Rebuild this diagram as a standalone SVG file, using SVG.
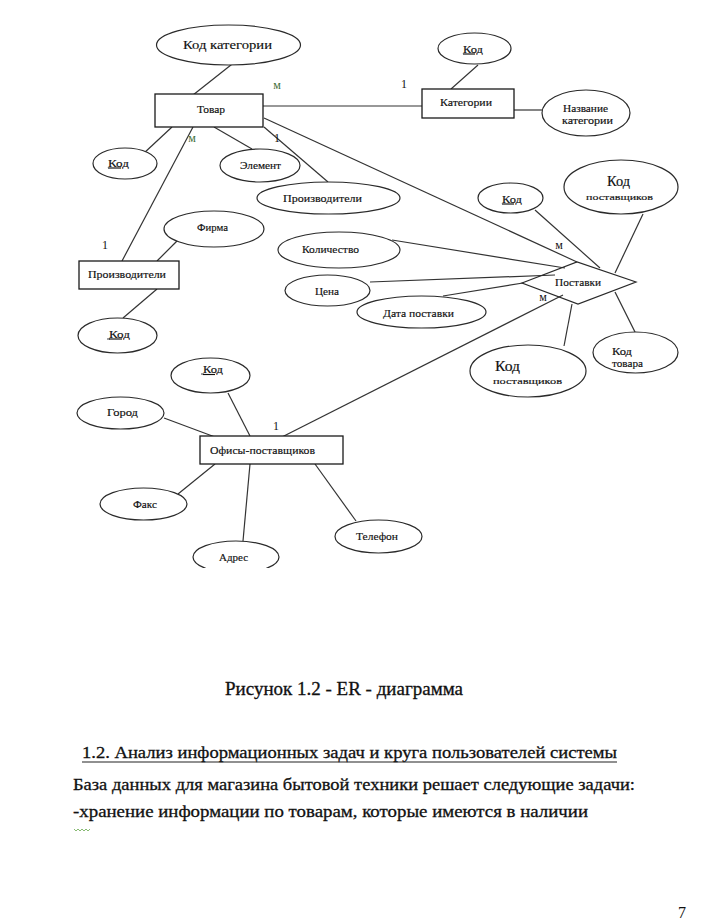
<svg xmlns="http://www.w3.org/2000/svg" width="720" height="921" viewBox="0 0 720 921" font-family="'Liberation Serif', 'DejaVu Serif', serif">
<style>
.ent{fill:#fff;stroke:#1a1a1a;stroke-width:1.3}
.attr{fill:#fff;stroke:#2a2a2a;stroke-width:1.2}
.rel{fill:none;stroke:#2a2a2a;stroke-width:1.2}
.edge{stroke:#333;stroke-width:1.2;fill:none}
text{font-family:'Liberation Serif','DejaVu Serif',serif;fill:#111}
.l{font-size:10px;text-anchor:middle;stroke:#111;stroke-width:0.15}
.card{font-size:12px;text-anchor:middle}
.grn{fill:#3f6e38}
.u{text-decoration:underline}
.body{font-size:17px;stroke:#111;stroke-width:0.3}
</style>
<defs>
<clipPath id="cutAdr"><rect x="180" y="530" width="120" height="38"/></clipPath>
</defs>
<rect width="720" height="921" fill="#fff"/>
<g id="connectors">
<line class="edge" x1="236" y1="61" x2="193" y2="95"/>
<line class="edge" x1="263" y1="106" x2="422" y2="106"/>
<line class="edge" x1="478" y1="65" x2="451" y2="89"/>
<line class="edge" x1="514" y1="110" x2="542" y2="110"/>
<line class="edge" x1="172" y1="127" x2="143" y2="154"/>
<line class="edge" x1="214" y1="127" x2="252" y2="149"/>
<line class="edge" x1="264" y1="127" x2="328" y2="182"/>
<line class="edge" x1="264" y1="118" x2="577" y2="262"/>
<line class="edge" x1="193" y1="127" x2="122" y2="261"/>
<line class="edge" x1="177" y1="241" x2="157" y2="261"/>
<line class="edge" x1="157" y1="289" x2="123" y2="318"/>
<line class="edge" x1="535" y1="210" x2="600" y2="268"/>
<line class="edge" x1="643" y1="214" x2="615" y2="273"/>
<line class="edge" x1="392" y1="240" x2="565" y2="268"/>
<line class="edge" x1="370" y1="282" x2="555" y2="275"/>
<line class="edge" x1="443" y1="296" x2="523" y2="283"/>
<line class="edge" x1="278" y1="439" x2="563" y2="295"/>
<line class="edge" x1="564" y1="346" x2="572" y2="304"/>
<line class="edge" x1="635" y1="332" x2="615" y2="292"/>
<line class="edge" x1="228" y1="393" x2="250" y2="436"/>
<line class="edge" x1="164" y1="418" x2="215" y2="437"/>
<line class="edge" x1="215" y1="464" x2="178" y2="494"/>
<line class="edge" x1="250" y1="464" x2="243" y2="541"/>
<line class="edge" x1="315" y1="464" x2="356" y2="521"/>
</g>
<g id="tovar"><rect class="ent" x="155" y="94" width="108" height="33"/><text class="l" x="211" y="112.5" textLength="28" lengthAdjust="spacingAndGlyphs">Товар</text></g>
<g id="kod-kategorii"><ellipse class="attr" cx="228.5" cy="45" rx="72" ry="20"/><text class="l" style="font-size:13px" x="227.5" y="49" textLength="89" lengthAdjust="spacingAndGlyphs">Код категории</text></g>
<g id="tovar-kod"><ellipse class="attr" cx="125" cy="163.5" rx="32" ry="15.5"/><text class="l u" x="118.5" y="166.5" textLength="21" lengthAdjust="spacingAndGlyphs">Код</text></g>
<g id="element"><ellipse class="attr" cx="260" cy="165.5" rx="40" ry="16.5"/><text class="l" x="260.5" y="169" textLength="41" lengthAdjust="spacingAndGlyphs">Элемент</text></g>
<g id="proizv-attr"><ellipse class="attr" cx="328.5" cy="198" rx="71.5" ry="16"/><text class="l" x="322.5" y="201.5" textLength="79" lengthAdjust="spacingAndGlyphs">Производители</text></g>
<g id="kategorii"><rect class="ent" x="422" y="89" width="92" height="29"/><text class="l" x="466" y="105.5" textLength="52" lengthAdjust="spacingAndGlyphs">Категории</text></g>
<g id="kategorii-kod"><ellipse class="attr" cx="474.5" cy="48.5" rx="36.5" ry="15.5"/><text class="l u" x="473" y="52.5" textLength="20" lengthAdjust="spacingAndGlyphs">Код</text></g>
<g id="nazvanie"><ellipse class="attr" cx="586" cy="113" rx="44" ry="23"/><text class="l" x="585.5" y="111.5" textLength="45" lengthAdjust="spacingAndGlyphs">Название</text><text class="l" x="587.5" y="123.5" textLength="51" lengthAdjust="spacingAndGlyphs">категории</text></g>
<g id="kod-postav-1"><ellipse class="attr" cx="621" cy="187" rx="57" ry="27"/><text class="l" style="font-size:14px" x="618.5" y="186" textLength="23" lengthAdjust="spacingAndGlyphs">Код</text><text class="l" style="font-size:9px" x="619.5" y="200" textLength="67" lengthAdjust="spacingAndGlyphs">поставщиков</text></g>
<g id="postavki-kod"><ellipse class="attr" cx="510.5" cy="198" rx="32.5" ry="15"/><text class="l u" x="512" y="202.5" textLength="20" lengthAdjust="spacingAndGlyphs">Код</text></g>
<g id="kolichestvo"><ellipse class="attr" cx="339" cy="250" rx="61" ry="18"/><text class="l" x="330.5" y="252.5" textLength="57" lengthAdjust="spacingAndGlyphs">Количество</text></g>
<g id="cena"><ellipse class="attr" cx="327.5" cy="290.5" rx="42.5" ry="15.5"/><text class="l" x="327" y="294.5" textLength="24" lengthAdjust="spacingAndGlyphs">Цена</text></g>
<g id="data"><ellipse class="attr" cx="421.5" cy="312" rx="64.5" ry="16"/><text class="l" x="418.5" y="316.5" textLength="71" lengthAdjust="spacingAndGlyphs">Дата поставки</text></g>
<g id="postavki"><polygon class="rel" points="522,283 577,262 636,282 578,304"/><text class="l" x="578" y="285.5" textLength="46" lengthAdjust="spacingAndGlyphs">Поставки</text></g>
<g id="kod-postav-2"><ellipse class="attr" cx="528" cy="371" rx="58" ry="26"/><text class="l" style="font-size:14px" x="507.5" y="370.5" textLength="25" lengthAdjust="spacingAndGlyphs">Код</text><text class="l" style="font-size:9px" x="527.5" y="384" textLength="69" lengthAdjust="spacingAndGlyphs">поставщиков</text></g>
<g id="kod-tovara"><ellipse class="attr" cx="635.5" cy="352.5" rx="42.5" ry="20.5"/><text style="font-size:10px;stroke:#111;stroke-width:0.15" x="612" y="354.5" textLength="20" lengthAdjust="spacingAndGlyphs">Код</text><text style="font-size:10px;stroke:#111;stroke-width:0.15" x="612" y="366.5" textLength="31" lengthAdjust="spacingAndGlyphs">товара</text></g>
<g id="firma"><ellipse class="attr" cx="214" cy="229" rx="50" ry="18"/><text class="l" x="212.5" y="230.5" textLength="31" lengthAdjust="spacingAndGlyphs">Фирма</text></g>
<g id="proizvoditeli"><rect class="ent" x="79" y="261" width="100" height="28"/><text class="l" x="127" y="277.5" textLength="78" lengthAdjust="spacingAndGlyphs">Производители</text></g>
<g id="proizv-kod"><ellipse class="attr" cx="117.5" cy="335.5" rx="39.5" ry="17.5"/><line x1="107" y1="339" x2="110" y2="339" stroke="#111" stroke-width="0.8"/><text class="l u" x="119.5" y="337.5" textLength="21" lengthAdjust="spacingAndGlyphs">Код</text></g>
<g id="ofisy-kod"><ellipse class="attr" cx="210.5" cy="375.5" rx="39.5" ry="17.5"/><line x1="201" y1="374" x2="204" y2="374" stroke="#111" stroke-width="0.8"/><text class="l u" x="213" y="373" textLength="20" lengthAdjust="spacingAndGlyphs">Код</text></g>
<g id="gorod"><ellipse class="attr" cx="120.5" cy="413" rx="43.5" ry="16"/><text class="l" x="122.5" y="416" textLength="31" lengthAdjust="spacingAndGlyphs">Город</text></g>
<g id="ofisy"><rect class="ent" x="200" y="436" width="143" height="28"/><text class="l" x="262.5" y="453.5" textLength="105" lengthAdjust="spacingAndGlyphs">Офисы-поставщиков</text></g>
<g id="faks"><ellipse class="attr" cx="143.5" cy="504" rx="43.5" ry="16"/><text class="l" x="145" y="507.5" textLength="24" lengthAdjust="spacingAndGlyphs">Факс</text></g>
<g id="adres"><ellipse class="attr" cx="236" cy="557" rx="43" ry="16" clip-path="url(#cutAdr)"/><text class="l" x="233.5" y="561" textLength="29" lengthAdjust="spacingAndGlyphs">Адрес</text></g>
<g id="telefon"><ellipse class="attr" cx="378.5" cy="536.5" rx="43.5" ry="16.5"/><text class="l" x="377" y="540" textLength="42" lengthAdjust="spacingAndGlyphs">Телефон</text></g>
<g id="cardinalities">
<text class="card grn" x="277" y="89">м</text>
<text class="card" x="404" y="88">1</text>
<text class="card grn" x="192" y="142">м</text>
<text class="card" x="277" y="142">1</text>
<text class="card" x="105" y="249">1</text>
<text class="card" x="559" y="249">м</text>
<text class="card" x="543" y="301">м</text>
<text class="card" x="276" y="430">1</text>
</g>
<g id="page-text">
<text class="body" style="font-size:18px" x="225" y="695" textLength="238" lengthAdjust="spacingAndGlyphs">Рисунок 1.2 - ER - диаграмма</text>
<text class="body" x="82" y="758" textLength="535" lengthAdjust="spacingAndGlyphs">1.2. Анализ информационных задач и круга пользователей системы</text>
<line x1="82" y1="762" x2="617" y2="762" stroke="#222" stroke-width="1.2"/>
<text class="body" x="73" y="790" textLength="562" lengthAdjust="spacingAndGlyphs">База данных для магазина бытовой техники решает следующие задачи:</text>
<text class="body" x="73" y="817" textLength="515" lengthAdjust="spacingAndGlyphs">-хранение информации по товарам, которые имеются в наличии</text>
<polyline points="74,829 76,831 78,829 80,831 82,829 84,831 86,829 88,831 90,829" fill="none" stroke="#6aa84f" stroke-width="0.8"/>
<text style="font-size:16px" x="678" y="918">7</text>
</g>
</svg>
